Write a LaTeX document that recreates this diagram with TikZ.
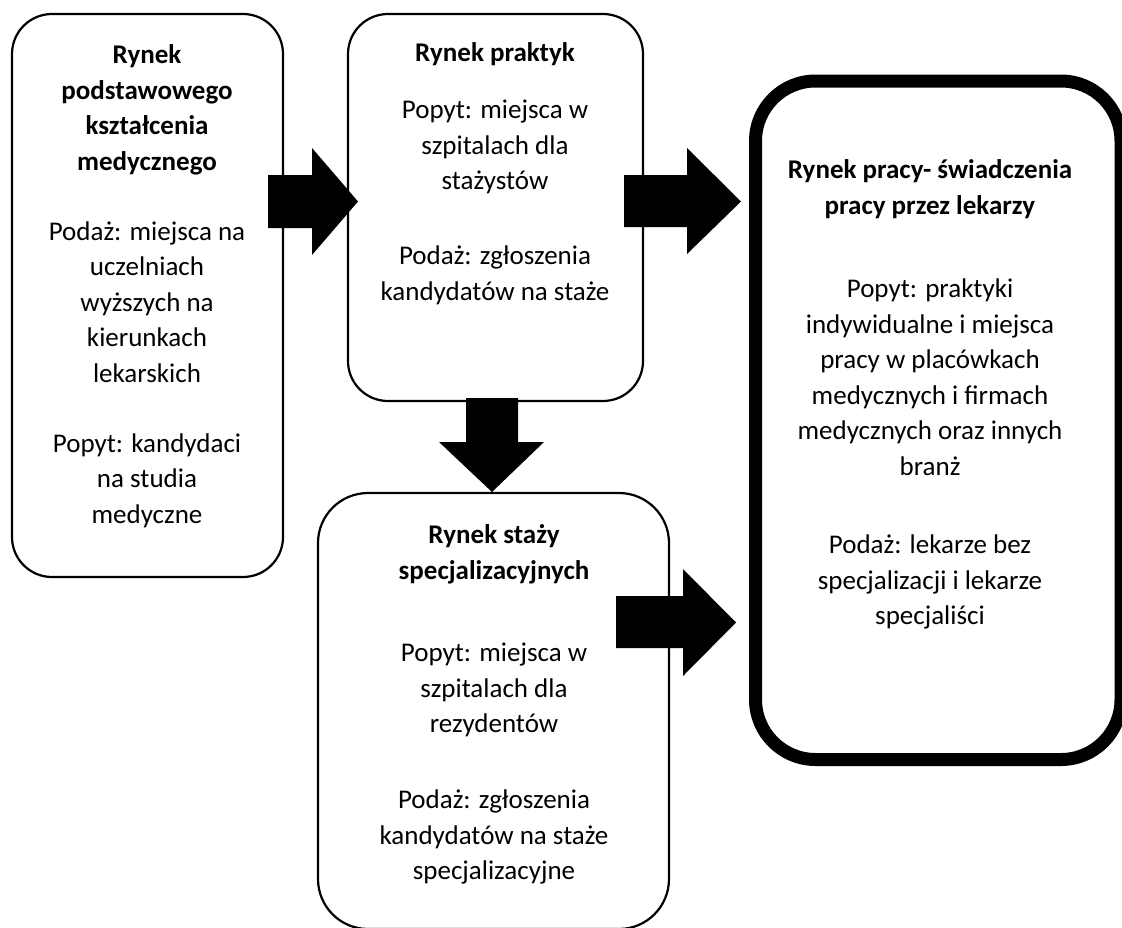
\documentclass[tikz,border=0pt]{standalone}
\usepackage{fontspec}
\setmainfont{Carlito}
\begin{document}
\begin{tikzpicture}[x=1pt,y=-1pt,
  box/.style={draw, line width=2.2pt, rounded corners=40pt, fill=white, inner sep=0pt},
  bigbox/.style={draw, line width=13pt, rounded corners=60pt, fill=white, inner sep=0pt},
  txt/.style={anchor=north, align=center, inner sep=0pt, font=\fontsize{27}{35.6}\selectfont},
  ttl/.style={anchor=north, align=center, inner sep=0pt, font=\fontsize{27}{35.6}\selectfont\bfseries},
  blockarrow/.style={fill=black}]
\useasboundingbox (0,0) rectangle (1122,927);
% boxes
\node[box, minimum width=271pt, minimum height=563pt] (b1) at (147.5,295.5) {};
\node[box, minimum width=295pt, minimum height=387pt] (b2) at (495.5,207.5) {};
\node[box, minimum width=351pt, minimum height=436pt, rounded corners=50pt] (b3) at (493.5,711) {};
\node[bigbox, minimum width=365.5pt, minimum height=678.5pt] (b4) at (938.25,420.25) {};
% texts box 1
\node[ttl] (t1a) at (147,38.4) {\strut Rynek\\podstawowego\\kształcenia\\medycznego};
\node[txt] (t1b) at (147,214.9) {\strut Podaż: miejsca na\\uczelniach\\wyższych na\\kierunkach\\lekarskich};
\node[txt] (t1c) at (147,426.9) {\strut Popyt: kandydaci\\na studia\\medyczne};
% texts box 2
\node[ttl] (t2a) at (495,36.4) {\strut Rynek praktyk};
\node[txt] (t2b) at (495,93.4) {\strut Popyt: miejsca w\\szpitalach dla\\stażystów};
\node[txt] (t2c) at (495,239.4) {\strut Podaż: zgłoszenia\\kandydatów na staże};
% texts box 3
\node[ttl] (t3a) at (494,518.4) {\strut Rynek staży\\specjalizacyjnych};
\node[txt] (t3b) at (494,636.4) {\strut Popyt: miejsca w\\szpitalach dla\\rezydentów};
\node[txt] (t3c) at (494,783.4) {\strut Podaż: zgłoszenia\\kandydatów na staże\\specjalizacyjne};
% texts box 4
\node[ttl] (t4a) at (930,153.4) {\strut Rynek pracy- świadczenia\\pracy przez lekarzy};
\node[txt] (t4b) at (930,272.4) {\strut Popyt: praktyki\\indywidualne i miejsca\\pracy w placówkach\\medycznych i firmach\\medycznych oraz innych\\branż};
\node[txt] (t4c) at (930,528.4) {\strut Podaż: lekarze bez\\specjalizacji i lekarze\\specjaliści};
% block arrows
\fill[blockarrow] (268,175) -- (312,175) -- (312,148) -- (358,201.5) -- (312,255) -- (312,228) -- (268,228) -- cycle;
\fill[blockarrow] (624,175) -- (687,175) -- (687,148) -- (741,201.5) -- (687,254) -- (687,227) -- (624,227) -- cycle;
\fill[blockarrow] (466,398) -- (518,398) -- (518,442) -- (544,442) -- (492,492) -- (439,442) -- (466,442) -- cycle;
\fill[blockarrow] (616,596) -- (683,596) -- (683,569) -- (736,622.5) -- (683,676) -- (683,648) -- (616,648) -- cycle;
\end{tikzpicture}
\end{document}
